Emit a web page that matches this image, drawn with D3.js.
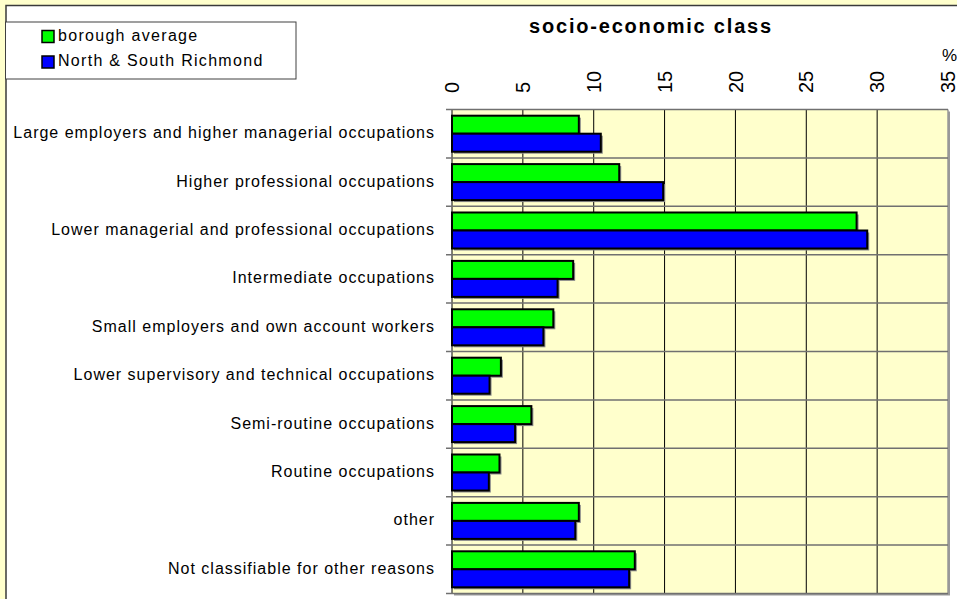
<!DOCTYPE html>
<html>
<head>
<meta charset="utf-8">
<script src="https://cdn.jsdelivr.net/npm/d3@7"></script>
<style>
  html, body { margin: 0; padding: 0; background: #ffffcc; }
  svg { display: block; font-family: Arial, "Liberation Sans", sans-serif; }
</style>
</head>
<body>
<script>
var categories = [
  "Large employers and higher managerial occupations",
  "Higher professional occupations",
  "Lower managerial and professional occupations",
  "Intermediate occupations",
  "Small employers and own account workers",
  "Lower supervisory and technical occupations",
  "Semi-routine occupations",
  "Routine occupations",
  "other",
  "Not classifiable for other reasons"
];
var seriesNames = ["borough average", "North & South Richmond"];
var boroughAverage = [8.95, 11.8, 28.55, 8.55, 7.15, 3.45, 5.6, 3.35, 8.95, 12.9];
var northSouth = [10.5, 14.9, 29.3, 7.45, 6.45, 2.65, 4.45, 2.6, 8.7, 12.5];
var tickValues = [0, 5, 10, 15, 20, 25, 30, 35];
var colors = ["#00ff00", "#0000ff"];

var W = 957, H = 599;
var svg = d3.select("body").append("svg").attr("width", W).attr("height", H);

// outer frame
svg.append("rect").attr("x", 0).attr("y", 0).attr("width", W).attr("height", H).attr("fill", "#ffffcc");
svg.append("rect").attr("x", 6).attr("y", 5.5).attr("width", W + 10).attr("height", H + 10)
  .attr("fill", "#ffffff").attr("stroke", "#3a3a3a").attr("stroke-width", 1.5);

var pLeft = 452, pRight = 948, pTop = 109.5, pBottom = 593.5;

var x = d3.scaleLinear().domain([0, 35]).range([pLeft, pRight]);
var y = d3.scaleBand().domain(categories).range([pTop, pBottom]).paddingInner(0.256).paddingOuter(0.128);
var ySub = d3.scaleBand().domain([0, 1]).range([0, y.bandwidth()]);
var step = y.step();

// plot area with shadow
svg.append("rect").attr("x", pLeft + 2).attr("y", pTop + 2).attr("width", pRight - pLeft).attr("height", pBottom - pTop)
  .attr("fill", "#999999");
svg.append("rect").attr("x", pLeft).attr("y", pTop).attr("width", pRight - pLeft).attr("height", pBottom - pTop)
  .attr("fill", "#ffffcc");

// vertical gridlines
svg.append("g").selectAll("line").data(tickValues).enter().append("line")
  .attr("x1", function(d) { return x(d); }).attr("x2", function(d) { return x(d); })
  .attr("y1", pTop).attr("y2", pBottom)
  .attr("stroke", function(d) { return d === 35 ? "#999999" : "#000000"; })
  .attr("stroke-width", function(d) { return d === 35 ? 1.5 : 1; });

// horizontal category separators + left ticks
var seps = d3.range(categories.length + 1);
svg.append("g").selectAll("line").data(seps).enter().append("line")
  .attr("x1", pLeft - 6).attr("x2", pRight)
  .attr("y1", function(i) { return pTop + i * step; }).attr("y2", function(i) { return pTop + i * step; })
  .attr("stroke", "#707070").attr("stroke-width", 1.5);

// top axis tick labels
svg.append("g").selectAll("text").data(tickValues).enter().append("text")
  .attr("transform", function(d) { return "translate(" + x(d) + ",93) rotate(-90)"; })
  .attr("dy", "0.36em")
  .attr("font-size", 20).attr("fill", "#000")
  .text(function(d) { return d; });

svg.append("text").attr("x", 957).attr("y", 61).attr("text-anchor", "end")
  .attr("font-size", 17).text("%");

// bars
var groups = svg.append("g").selectAll("g").data(categories).enter().append("g")
  .attr("transform", function(d) { return "translate(0," + y(d) + ")"; });

groups.each(function(c, i) {
  var g = d3.select(this);
  var vals = [boroughAverage[i], northSouth[i]];
  g.selectAll("rect.shadow").data(vals).enter().append("rect").attr("class", "shadow")
    .attr("x", x(0) + 2).attr("y", function(d, j) { return ySub(j) + 2; })
    .attr("width", function(d) { return x(d) - x(0); }).attr("height", ySub.bandwidth())
    .attr("fill", "#8a8a8a");
  g.selectAll("rect.bar").data(vals).enter().append("rect").attr("class", "bar")
    .attr("x", x(0)).attr("y", function(d, j) { return ySub(j); })
    .attr("width", function(d) { return x(d) - x(0); }).attr("height", ySub.bandwidth())
    .attr("fill", function(d, j) { return colors[j]; })
    .attr("stroke", "#000").attr("stroke-width", 2);
});

// category labels
svg.append("g").selectAll("text").data(categories).enter().append("text")
  .attr("x", 435).attr("y", function(d) { return y(d) + y.bandwidth() / 2 + 4.5; })
  .attr("text-anchor", "end").attr("font-size", 16).attr("letter-spacing", 1)
  .attr("fill", "#000").text(function(d) { return d; });

// title
svg.append("text").attr("x", 651).attr("y", 33).attr("text-anchor", "middle")
  .attr("font-size", 20).attr("font-weight", "bold").attr("letter-spacing", 1.8)
  .text("socio-economic class");

// legend
var legend = svg.append("g");
legend.append("rect").attr("x", 5.5).attr("y", 22).attr("width", 290.5).attr("height", 57)
  .attr("fill", "#ffffff").attr("stroke", "#404040").attr("stroke-width", 1);
var li = legend.selectAll("g").data(seriesNames).enter().append("g")
  .attr("transform", function(d, i) { return "translate(0," + (i * 25.5) + ")"; });
li.append("rect").attr("x", 42).attr("y", 30.5).attr("width", 12).attr("height", 12)
  .attr("fill", function(d, i) { return colors[i]; }).attr("stroke", "#000").attr("stroke-width", 1.5);
li.append("text").attr("x", 58).attr("y", 40.5).attr("font-size", 16).attr("letter-spacing", 1.3)
  .text(function(d) { return d; });
</script>
</body>
</html>
